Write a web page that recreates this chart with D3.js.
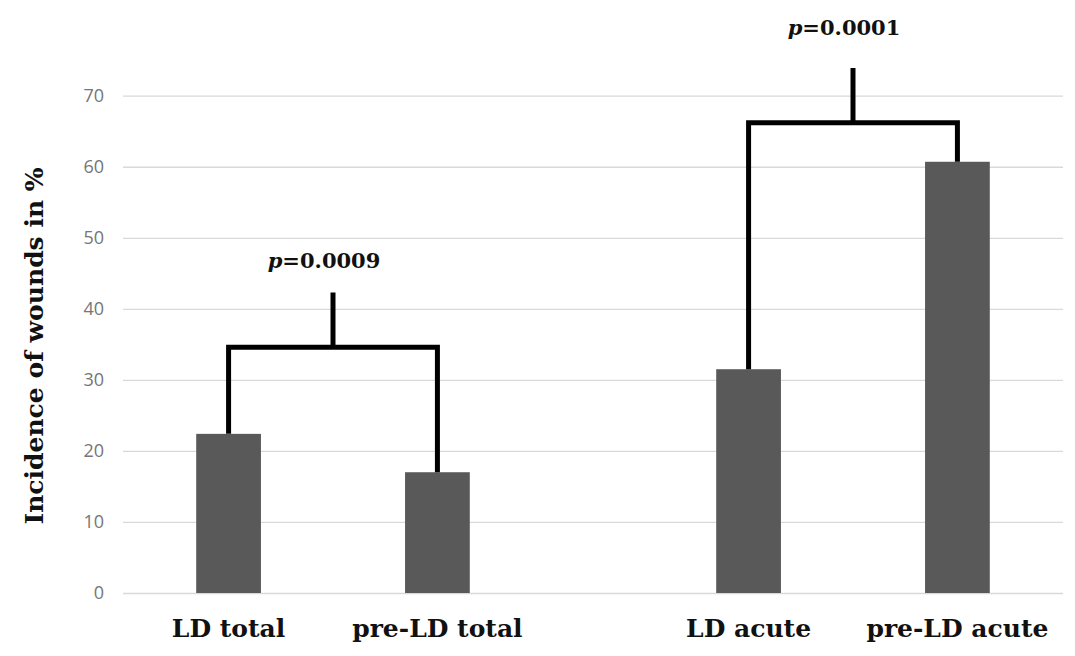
<!DOCTYPE html>
<meta charset="utf-8">

<!-- Load d3.js -->
<script src="https://d3js.org/d3.v7.min.js"></script>

<style>
  body { margin: 0; background: #fff; }
</style>

<div id="my_dataviz"></div>

<script>
// data
const groups = ["total", "acute"];
const periods = ["LD", "pre-LD"];
const categories = ["LD total", "pre-LD total", "LD acute", "pre-LD acute"];
const values = [22.4, 17.0, 31.5, 60.7];
const yTicks = [0, 10, 20, 30, 40, 50, 60, 70];

// significance brackets (in % units)
const pValues = ["0.0009", "0.0001"];
const bracketLevel = [34.6, 66.2];
const stemTop = [42.3, 73.9];
const labelLevel = [45.7, 78.6];

const data = categories.map((c, i) => ({
  name: c,
  group: groups[Math.floor(i / 2)],
  period: periods[i % 2],
  value: values[i]
}));

// set the dimensions and margins of the graph
const margin = {top: 0, right: 12, bottom: 63, left: 123},
    width = 1075 - margin.left - margin.right,
    height = 656 - margin.top - margin.bottom;

const svg = d3.select("#my_dataviz")
  .append("svg")
    .attr("width", 1075)
    .attr("height", 656)
  .append("g")
    .attr("transform", `translate(${margin.left},${margin.top})`);

// Y axis
const y = d3.scaleLinear()
  .domain([0, 70])
  .range([height, height - 497.3]);

const yAxis = svg.append("g")
  .call(d3.axisLeft(y).tickValues(yTicks).tickSize(-width).tickPadding(19));
yAxis.select(".domain").remove();
yAxis.selectAll(".tick line")
  .attr("stroke", "#d9d9d9")
  .attr("stroke-width", 1.3);
yAxis.selectAll(".tick text")
  .attr("fill", "#767676")
  .style("font-family", "'Open Sans', sans-serif")
  .style("font-size", "18px");

// X scales: groups, then LD / pre-LD inside each group
const x0 = d3.scaleBand()
  .domain(groups)
  .range([-50, 990]);

const x1 = d3.scaleBand()
  .domain(periods)
  .range([0, x0.bandwidth()])
  .paddingInner(0.69)
  .paddingOuter(0.59);

const cx = d => x0(d.group) + x1(d.period) + x1.bandwidth() / 2;

// bars
svg.append("g")
  .selectAll("rect")
  .data(data)
  .join("rect")
    .attr("x", d => x0(d.group) + x1(d.period))
    .attr("y", d => y(d.value))
    .attr("width", x1.bandwidth())
    .attr("height", d => y(0) - y(d.value))
    .attr("fill", "#595959");

// category labels
svg.append("g")
  .selectAll("text")
  .data(data)
  .join("text")
    .attr("x", cx)
    .attr("y", height + 44)
    .attr("text-anchor", "middle")
    .style("font-family", "'DejaVu Serif', serif")
    .style("font-weight", "bold")
    .style("font-size", "25px")
    .attr("fill", "#111")
    .text(d => d.name);

// Y title
svg.append("text")
  .attr("transform", `translate(${43 - margin.left},346) rotate(-90)`)
  .attr("text-anchor", "middle")
  .style("font-family", "'DejaVu Serif', serif")
  .style("font-weight", "bold")
  .style("font-size", "25px")
  .attr("fill", "#111")
  .text("Incidence of wounds in %");

// brackets
groups.forEach((g, gi) => {
  const pair = data.filter(d => d.group === g);
  const xa = cx(pair[0]), xb = cx(pair[1]);
  const mid = (xa + xb) / 2;
  const yl = y(bracketLevel[gi]);

  svg.append("path")
    .attr("d", `M${xa},${y(pair[0].value)}V${yl}H${xb}V${y(pair[1].value)}`)
    .attr("fill", "none")
    .attr("stroke", "#000")
    .attr("stroke-width", 5);

  svg.append("line")
    .attr("x1", mid).attr("x2", mid)
    .attr("y1", yl).attr("y2", y(stemTop[gi]))
    .attr("stroke", "#000")
    .attr("stroke-width", 5);

  const t = svg.append("text")
    .attr("x", mid - 9)
    .attr("y", y(labelLevel[gi]))
    .attr("text-anchor", "middle")
    .style("font-family", "'DejaVu Serif', serif")
    .style("font-weight", "bold")
    .style("font-size", "21px")
    .attr("fill", "#111");
  t.append("tspan").style("font-style", "italic").text("p");
  t.append("tspan").text("=" + pValues[gi]);
});
</script>
